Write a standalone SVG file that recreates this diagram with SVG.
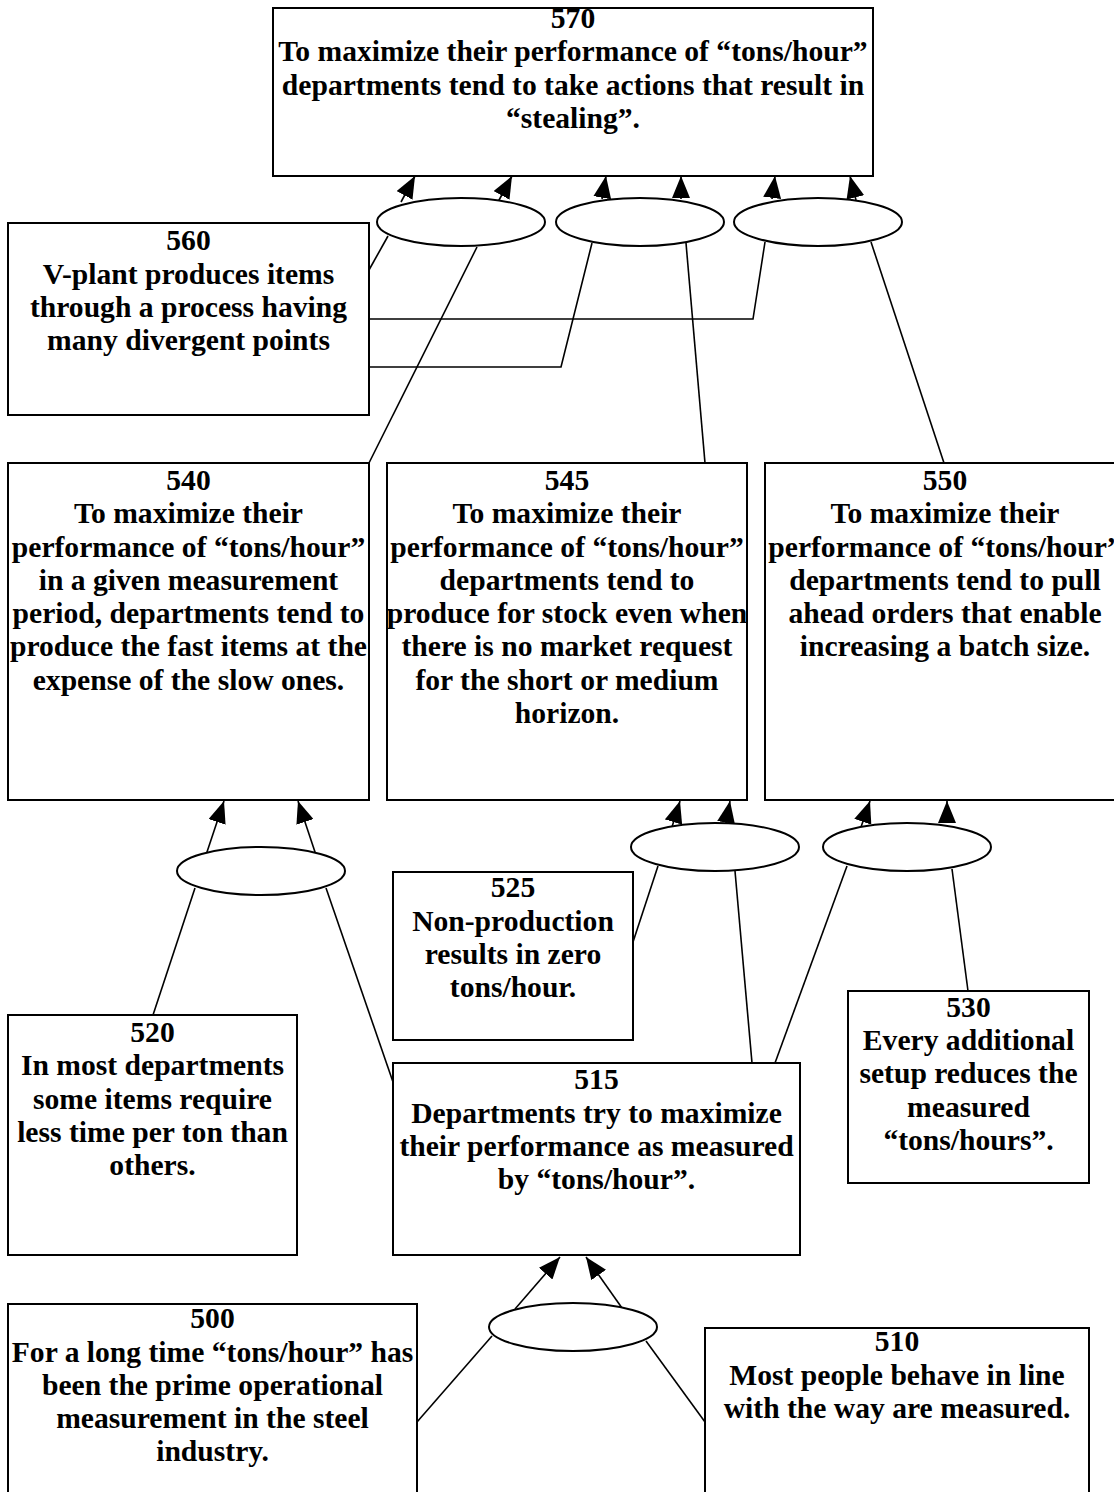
<svg xmlns="http://www.w3.org/2000/svg" width="1114" height="1492" viewBox="0 0 1114 1492">
<defs>
<style>
.box{fill:#fff;stroke:#000;stroke-width:2}
.ell{fill:#fff;stroke:#000;stroke-width:2}
.ln{fill:none;stroke:#000;stroke-width:1.6}
.ar{fill:none;stroke:#000;stroke-width:1.6;marker-end:url(#ah)}
text{font-family:"Liberation Serif","Times New Roman",serif;font-weight:bold;font-size:29.6px;text-anchor:middle;fill:#000}
</style>
<marker id="ah" markerUnits="userSpaceOnUse" viewBox="0 0 22 18" refX="22" refY="9" markerWidth="22" markerHeight="18" orient="auto">
<path d="M0,0 L22,9 L0,18 z" fill="#000"/>
</marker>
</defs>
<rect width="1114" height="1492" fill="#fff"/>

<g id="connectors">
<path class="ln" d="M388,236 L369,270"/>
<path class="ln" d="M477,247 L369,463"/>
<path class="ln" d="M369,367 L561,367 L592,243"/>
<path class="ln" d="M686,243 L705,463"/>
<path class="ln" d="M369,319 L753,319 L765,242"/>
<path class="ln" d="M871,242 L944,463"/>
<path class="ar" d="M401,202 L415,176"/>
<path class="ar" d="M498,202 L512,176"/>
<path class="ar" d="M602,199 L606,176"/>
<path class="ar" d="M681,199 L681,176"/>
<path class="ar" d="M772,199 L775,176"/>
<path class="ar" d="M856,200 L850,176"/>
<path class="ar" d="M206,855 L224,801"/>
<path class="ar" d="M316,855 L298,801"/>
<path class="ln" d="M195,888 L153,1015"/>
<path class="ln" d="M326,888 L393,1082"/>
<path class="ar" d="M672,827 L680,801"/>
<path class="ar" d="M726,823 L730,801"/>
<path class="ln" d="M658,866 L633,942"/>
<path class="ln" d="M735,871 L752,1063"/>
<path class="ar" d="M861,827 L870,801"/>
<path class="ar" d="M947,823 L947,801"/>
<path class="ln" d="M847,866 L775,1063"/>
<path class="ln" d="M952,869 L968,991"/>
<path class="ar" d="M515,1309 L560,1257"/>
<path class="ar" d="M622,1308 L586,1257"/>
<path class="ln" d="M492,1336 L417,1422"/>
<path class="ln" d="M646,1341 L705,1422"/>
</g>

<g id="e570a"><ellipse class="ell" cx="461" cy="222" rx="84" ry="24"/></g>
<g id="e570b"><ellipse class="ell" cx="640" cy="222" rx="84" ry="24"/></g>
<g id="e570c"><ellipse class="ell" cx="818" cy="222" rx="84" ry="24"/></g>
<g id="e540"><ellipse class="ell" cx="261" cy="871" rx="84" ry="24"/></g>
<g id="e545"><ellipse class="ell" cx="715" cy="847" rx="84" ry="24"/></g>
<g id="e550"><ellipse class="ell" cx="907" cy="847" rx="84" ry="24"/></g>
<g id="e515"><ellipse class="ell" cx="573" cy="1327" rx="84" ry="24"/></g>

<g id="n570">
<rect class="box" x="273" y="8" width="600" height="168"/>
<text x="573" y="28">570</text>
<text x="573" y="61">To maximize their performance of “tons/hour”</text>
<text x="573" y="94.5">departments tend to take actions that result in</text>
<text x="573" y="128">“stealing”.</text>
</g>

<g id="n560">
<rect class="box" x="8" y="223" width="361" height="192"/>
<text x="188.5" y="250">560</text>
<text x="188.5" y="283.5">V-plant produces items</text>
<text x="188.5" y="317">through a process having</text>
<text x="188.5" y="350">many divergent points</text>
</g>

<g id="n540">
<rect class="box" x="8" y="463" width="361" height="337"/>
<text x="188.5" y="490">540</text>
<text x="188.5" y="523">To maximize their</text>
<text x="188.5" y="556.5">performance of “tons/hour”</text>
<text x="188.5" y="589.5">in a given measurement</text>
<text x="188.5" y="623">period, departments tend to</text>
<text x="188.5" y="656">produce the fast items at the</text>
<text x="188.5" y="689.5">expense of the slow ones.</text>
</g>

<g id="n545">
<rect class="box" x="387" y="463" width="360" height="337"/>
<text x="567" y="490">545</text>
<text x="567" y="523">To maximize their</text>
<text x="567" y="556.5">performance of “tons/hour”</text>
<text x="567" y="589.5">departments tend to</text>
<text x="567" y="623">produce for stock even when</text>
<text x="567" y="656">there is no market request</text>
<text x="567" y="689.5">for the short or medium</text>
<text x="567" y="722.5">horizon.</text>
</g>

<g id="n550">
<rect class="box" x="765" y="463" width="360" height="337"/>
<text x="945" y="490">550</text>
<text x="945" y="523">To maximize their</text>
<text x="945" y="556.5">performance of “tons/hour”</text>
<text x="945" y="589.5">departments tend to pull</text>
<text x="945" y="623">ahead orders that enable</text>
<text x="945" y="656">increasing a batch size.</text>
</g>

<g id="n525">
<rect class="box" x="393" y="872" width="240" height="168"/>
<text x="513" y="897">525</text>
<text x="513" y="931">Non-production</text>
<text x="513" y="964">results in zero</text>
<text x="513" y="997">tons/hour.</text>
</g>

<g id="n530">
<rect class="box" x="848" y="991" width="241" height="192"/>
<text x="968.5" y="1017">530</text>
<text x="968.5" y="1050">Every additional</text>
<text x="968.5" y="1083">setup reduces the</text>
<text x="968.5" y="1116.5">measured</text>
<text x="968.5" y="1150">“tons/hours”.</text>
</g>

<g id="n520">
<rect class="box" x="8" y="1015" width="289" height="240"/>
<text x="152.5" y="1042">520</text>
<text x="152.5" y="1075">In most departments</text>
<text x="152.5" y="1108.5">some items require</text>
<text x="152.5" y="1141.5">less time per ton than</text>
<text x="152.5" y="1175">others.</text>
</g>

<g id="n515">
<rect class="box" x="393" y="1063" width="407" height="192"/>
<text x="596.5" y="1089">515</text>
<text x="596.5" y="1122.5">Departments try to maximize</text>
<text x="596.5" y="1156">their performance as measured</text>
<text x="596.5" y="1189">by “tons/hour”.</text>
</g>

<g id="n500">
<rect class="box" x="8" y="1304" width="409" height="200"/>
<text x="212.5" y="1328">500</text>
<text x="212.5" y="1361.5">For a long time “tons/hour” has</text>
<text x="212.5" y="1395">been the prime operational</text>
<text x="212.5" y="1428">measurement in the steel</text>
<text x="212.5" y="1461">industry.</text>
</g>

<g id="n510">
<rect class="box" x="705" y="1328" width="384" height="180"/>
<text x="897" y="1351">510</text>
<text x="897" y="1384.5">Most people behave in line</text>
<text x="897" y="1418">with the way are measured.</text>
</g>
</svg>
